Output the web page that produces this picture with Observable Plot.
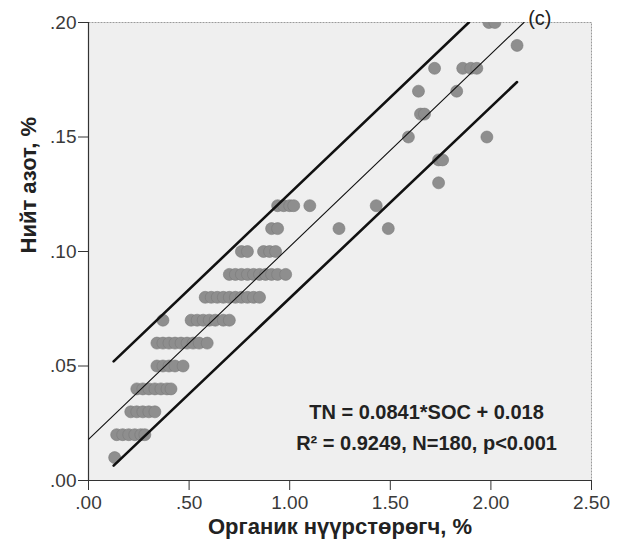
<!DOCTYPE html>
<html>
<head>
<meta charset="utf-8">
<script src="https://cdn.jsdelivr.net/npm/d3@7"></script>
<script src="https://cdn.jsdelivr.net/npm/@observablehq/plot@0.6"></script>
<style>
  html, body { margin: 0; padding: 0; background: #fff; }
  #chart svg { display: block; }
</style>
</head>
<body>
<div id="chart"></div>
<script>
// Observed points: nitrogen level (y) and SOC values (x) in each level
const tnLevels = [0.01, 0.02, 0.03, 0.04, 0.05, 0.06, 0.07, 0.08, 0.09, 0.10, 0.11, 0.12, 0.13, 0.14, 0.15, 0.16, 0.17, 0.18, 0.19, 0.20];
const socByLevel = [
  [0.13],
  [0.14, 0.17, 0.20, 0.23, 0.26, 0.28],
  [0.21, 0.24, 0.27, 0.30, 0.33],
  [0.24, 0.27, 0.30, 0.33, 0.36, 0.39, 0.41],
  [0.34, 0.37, 0.40, 0.43, 0.47],
  [0.34, 0.37, 0.40, 0.43, 0.46, 0.49, 0.52, 0.55, 0.59],
  [0.37, 0.51, 0.54, 0.57, 0.60, 0.63, 0.67, 0.70],
  [0.58, 0.61, 0.64, 0.67, 0.70, 0.73, 0.76, 0.79, 0.82, 0.85],
  [0.70, 0.73, 0.76, 0.79, 0.82, 0.85, 0.88, 0.91, 0.94, 0.98],
  [0.76, 0.79, 0.87, 0.90, 0.93],
  [0.91, 0.94, 1.245, 1.49],
  [0.94, 0.97, 1.00, 1.02, 1.10, 1.43],
  [1.74],
  [1.74, 1.76],
  [1.59, 1.98],
  [1.65, 1.67],
  [1.64, 1.83],
  [1.72, 1.86, 1.90, 1.93],
  [2.13],
  [1.99, 2.02]
];

// Regression line and prediction band endpoints (SOC, TN)
const fitSoc = [0, 2.164];
const fitTn = [0.018, 0.200];
const upperSoc = [0.125, 1.89];
const upperTn = [0.052, 0.200];
const lowerSoc = [0.125, 2.13];
const lowerTn = [0.0065, 0.174];

const xTicks = [0, 0.5, 1.0, 1.5, 2.0, 2.5];
const yTicks = [0, 0.05, 0.10, 0.15, 0.20];

const eqText = "TN = 0.0841*SOC + 0.018";
const statText = "R² = 0.9249, N=180, p<0.001";
const xTitle = "Органик нүүрстөрөгч, %";
const yTitle = "Нийт азот, %";
const panelTag = "(c)";

const points = [];
tnLevels.forEach((tn, i) => socByLevel[i].forEach(s => points.push({soc: s, tn})));
const toLine = (xs, ys) => xs.map((x, i) => ({soc: x, tn: ys[i]}));
const fmt = d => d.toFixed(2).replace(/^0/, "");

const font = "'Liberation Sans', Arial, sans-serif";

const chart = Plot.plot({
  width: 622,
  height: 550,
  marginLeft: 88,
  marginRight: 31,
  marginTop: 22,
  marginBottom: 70,
  style: {fontFamily: font, fontSize: "19px", color: "#333", background: "#fff", overflow: "visible"},
  x: {domain: [0, 2.5], ticks: xTicks, tickFormat: fmt},
  y: {domain: [0, 0.2], ticks: yTicks, tickFormat: fmt},
  marks: [
    Plot.frame({fill: "#efefef", stroke: "#9a9a9a", strokeDasharray: "2,1"}),
    Plot.axisX({ticks: xTicks, tickFormat: fmt, tickSize: 10, tickPadding: 5, label: null, fill: "#3a3a3a", fontSize: 19}),
    Plot.axisY({ticks: yTicks, tickFormat: fmt, tickSize: 10, tickPadding: 2, label: null, fill: "#3a3a3a", fontSize: 19}),
    Plot.ruleX([0], {stroke: "#333", strokeWidth: 1.2}),
    Plot.ruleY([0], {stroke: "#333", strokeWidth: 1.2}),
    Plot.dot(points, {x: "soc", y: "tn", r: 6, fill: "#8e8e8e", stroke: "#7a7a7a", strokeWidth: 0.6, clip: true}),
    Plot.line(toLine(fitSoc, fitTn), {x: "soc", y: "tn", stroke: "#111", strokeWidth: 1.1, clip: true}),
    Plot.line(toLine(upperSoc, upperTn), {x: "soc", y: "tn", stroke: "#111", strokeWidth: 2.6, clip: true}),
    Plot.line(toLine(lowerSoc, lowerTn), {x: "soc", y: "tn", stroke: "#111", strokeWidth: 2.6, clip: true}),
    Plot.text([eqText], {frameAnchor: "bottom-right", dx: -165, dy: -62, textAnchor: "middle", fontSize: 20, fontWeight: "bold", fill: "#222"}),
    Plot.text([statText], {frameAnchor: "bottom-right", dx: -165, dy: -31, textAnchor: "middle", fontSize: 20, fontWeight: "bold", fill: "#222"}),
    Plot.text([xTitle], {frameAnchor: "bottom", dy: 53, fontSize: 22, fontWeight: "bold", fill: "#222"}),
    Plot.text([yTitle], {frameAnchor: "left", dx: -60, dy: 2, rotate: -90, fontSize: 22, fontWeight: "bold", fill: "#222"}),
    Plot.text([panelTag], {frameAnchor: "top-right", dx: -40, dy: -12, fontSize: 20, fill: "#222"})
  ]
});
document.getElementById("chart").appendChild(chart);
</script>
</body>
</html>
